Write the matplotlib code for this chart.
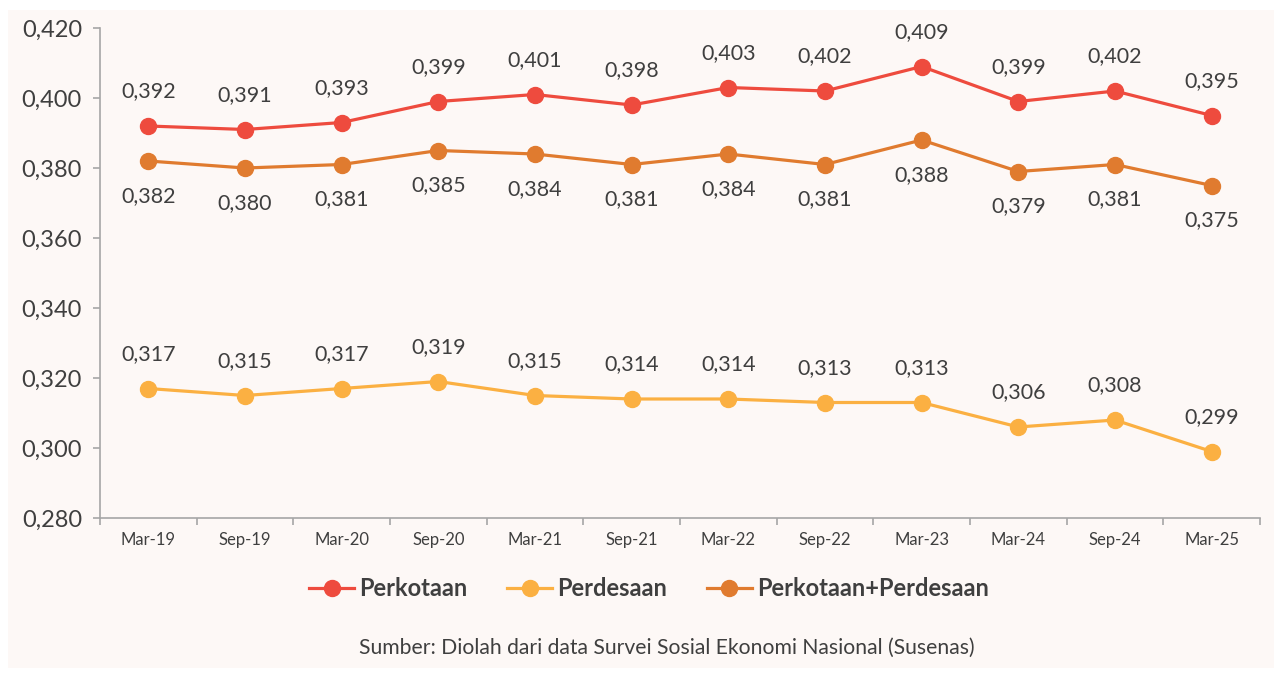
import matplotlib.pyplot as plt
from matplotlib.patches import Rectangle

periods = ["Mar-19", "Sep-19", "Mar-20", "Sep-20", "Mar-21", "Sep-21",
           "Mar-22", "Sep-22", "Mar-23", "Mar-24", "Sep-24", "Mar-25"]
perkotaan = [0.392, 0.391, 0.393, 0.399, 0.401, 0.398, 0.403, 0.402, 0.409, 0.399, 0.402, 0.395]
perdesaan = [0.317, 0.315, 0.317, 0.319, 0.315, 0.314, 0.314, 0.313, 0.313, 0.306, 0.308, 0.299]
gabungan = [0.382, 0.380, 0.381, 0.385, 0.384, 0.381, 0.384, 0.381, 0.388, 0.379, 0.381, 0.375]
yticks = [0.28, 0.30, 0.32, 0.34, 0.36, 0.38, 0.40, 0.42]

plt.rcParams['font.family'] = ['Lato', 'DejaVu Sans']
txt = '#3f3f3f'
grey = '#a6a6a6'
bg = '#fdf8f6'

fig = plt.figure(figsize=(12.82, 6.75), dpi=100, facecolor='white')
fig.patches.append(Rectangle((8/1282, 7/675), 1266/1282, 658/675,
                             transform=fig.transFigure, facecolor=bg,
                             edgecolor='none', zorder=-5))
ax = fig.add_axes([100/1282, 157/675, 1160/1282, 490/675])
ax.set_facecolor(bg)

x = list(range(len(periods)))
series = [
    (perkotaan, '#ee4b3e', 'Perkotaan', 1),
    (perdesaan, '#fbb042', 'Perdesaan', 1),
    (gabungan, '#e07b2f', 'Perkotaan+Perdesaan', -1),
]
for vals, col, name, side in series:
    ax.plot(x, vals, color=col, lw=2.3, marker='o', ms=11.5, label=name, zorder=3)
    for xi, v in zip(x, vals):
        ax.annotate(('%.3f' % v).replace('.', ','), (xi, v),
                    xytext=(0, 25 * side), textcoords='offset points',
                    ha='center', va='center', fontsize=15.5, color=txt)

ax.set_xlim(-0.5, len(periods) - 0.5)
ax.set_ylim(0.28, 0.42)
ax.set_yticks(yticks)
ax.set_yticklabels([('%.3f' % t).replace('.', ',') for t in yticks], fontsize=17, color=txt)
ax.set_xticks(x)
ax.set_xticklabels(periods, fontsize=12, color=txt)
ax.set_xticks([i - 0.5 for i in range(len(periods) + 1)], minor=True)
ax.tick_params(axis='x', which='major', length=0, pad=10)
ax.tick_params(axis='x', which='minor', length=5, color=grey, width=1.2)
ax.tick_params(axis='y', length=5, color=grey, width=1.2, pad=8)
for s in ['top', 'right']:
    ax.spines[s].set_visible(False)
for s in ['left', 'bottom']:
    ax.spines[s].set_color(grey)
    ax.spines[s].set_linewidth(1.2)

leg = fig.legend(loc='center', bbox_to_anchor=(649/1282, 1 - 589/675), ncol=3,
                 frameon=False, prop={'weight': 'bold', 'size': 17},
                 handlelength=1.9, columnspacing=1.7, handletextpad=0.2)
for t in leg.get_texts():
    t.set_color(txt)

fig.text(667/1282, 1 - 648/675,
         'Sumber: Diolah dari data Survei Sosial Ekonomi Nasional (Susenas)',
         ha='center', va='center', fontsize=15.2, color=txt)

fig.savefig('out.png', dpi=100, facecolor='white')
